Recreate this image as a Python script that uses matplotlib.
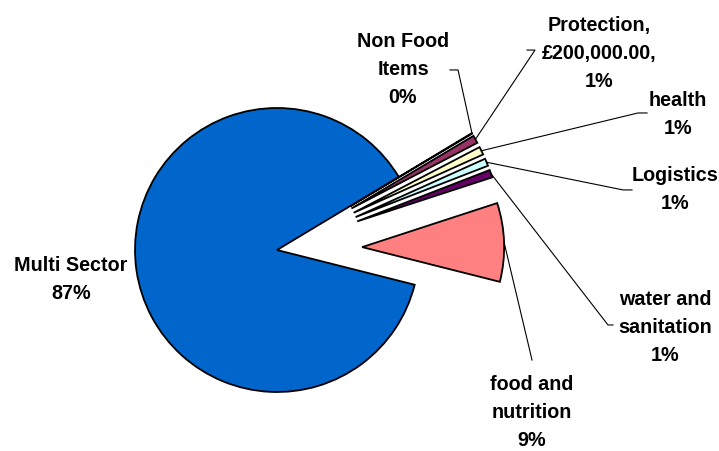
import matplotlib

matplotlib.use("Agg")
import matplotlib.pyplot as plt
import numpy as np

# Funding by sector (GBP), listed in drawing order (clockwise)
sectors = ["Non Food Items", "Protection", "health", "Logistics",
           "water and sanitation", "food and nutrition", "Multi Sector"]
amounts = [15000, 200000, 205000, 190000, 195000, 2005000, 19590000]
label_text = [
    "Non Food\nItems\n0%",
    "Protection,\n£200,000.00,\n1%",
    "health\n1%",
    "Logistics\n1%",
    "water and\nsanitation\n1%",
    "food and\nnutrition\n9%",
    "Multi Sector\n87%",
]
colors = ["#9999FF", "#993366", "#FFFFCC", "#CCFFFF",
          "#660066", "#FF8080", "#0066CC"]
explode = [0.6, 0.6, 0.6, 0.6, 0.6, 0.6, 0.0]

# label centres and leader-line elbows, in pie radius units
label_pos = [(0.887, 1.268), (2.268, 1.387), (2.824, 0.951), (2.803, 0.423),
             (2.732, -0.549), (1.796, -1.141), (-1.451, -0.211)]
leader_pts = [
    [(1.275, 1.268), (1.218, 1.268)],
    [(1.817, 1.408), (1.761, 1.408)],
    [(2.542, 0.965), (2.606, 0.965)],
    [(2.437, 0.423), (2.500, 0.423)],
    [(2.331, -0.528), (2.366, -0.528)],
    [(1.796, -0.775)],
    None,
]

fig = plt.figure(figsize=(7.19, 4.51), dpi=100)
ax = fig.add_axes([0, 0, 1, 1])

wedges, _ = ax.pie(
    amounts,
    colors=colors,
    explode=explode,
    startangle=31,
    counterclock=False,
    radius=1.0,
    wedgeprops=dict(edgecolor="black", linewidth=1.3),
)

for wedge, text, pos, pts in zip(wedges, label_text, label_pos, leader_pts):
    ax.text(pos[0], pos[1], text, ha="center", va="center",
            fontsize=14.2, fontweight="bold", family="Liberation Sans",
            linespacing=1.6, color="black")
    if pts is None:
        continue
    mid = np.deg2rad((wedge.theta1 + wedge.theta2) / 2)
    cx, cy = wedge.center
    start = (cx + wedge.r * np.cos(mid), cy + wedge.r * np.sin(mid))
    xs = [start[0]] + [p[0] for p in pts]
    ys = [start[1]] + [p[1] for p in pts]
    ax.plot(xs, ys, color="black", linewidth=0.8)

ax.set_xlim(-277 / 142, 442 / 142)
ax.set_ylim(-201 / 142, 250 / 142)
ax.set_aspect("equal", adjustable="box")
ax.axis("off")

fig.savefig("out.png", dpi=100)
plt.close(fig)
